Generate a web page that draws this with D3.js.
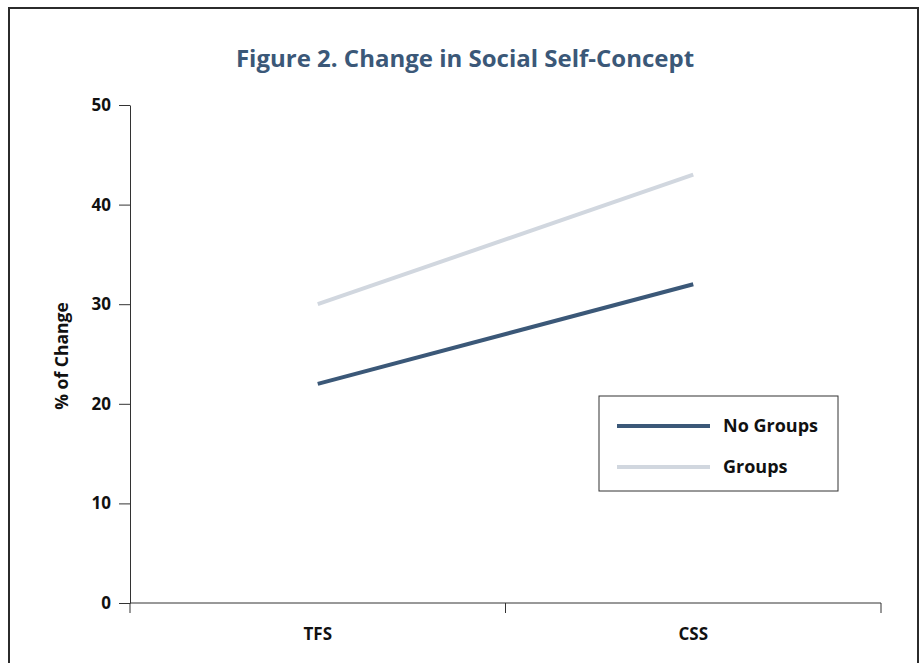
<!DOCTYPE html>
<html>
<head>
<meta charset="utf-8">
<script src="https://cdn.jsdelivr.net/npm/d3@7"></script>
<style>
  body { margin: 0; background: #fff; }
  text { font-family: "Open Sans", "Noto Sans", sans-serif; }
</style>
</head>
<body>
<div class="canvas"></div>
<script>
// data
const categories = ['TFS', 'CSS']
const noGroups = [22, 32]
const groups = [30, 43]
const yTicks = [0, 10, 20, 30, 40, 50]

const series = [
    { name: 'No Groups', values: noGroups, color: '#3b5878' },
    { name: 'Groups', values: groups, color: '#d1d7df' }
]

// dimensions
const dims = { width: 920, height: 663 }
const plot = { left: 130, right: 881, top: 105, bottom: 603 }

const svg = d3.select('.canvas')
    .append('svg')
    .attr('width', dims.width)
    .attr('height', dims.height)

// outer frame
svg.append('rect')
    .attr('x', 9).attr('y', 8)
    .attr('width', 909).attr('height', 700)
    .attr('fill', 'none')
    .attr('stroke', '#2b2b2b')
    .attr('stroke-width', 2)

// title
svg.append('text')
    .attr('x', 465).attr('y', 67)
    .attr('text-anchor', 'middle')
    .attr('font-size', 24)
    .attr('font-weight', 700)
    .attr('fill', '#3b5878')
    .text('Figure 2. Change in Social Self-Concept')

// scales
const x = d3.scaleBand()
    .domain(categories)
    .range([plot.left, plot.right])

const y = d3.scaleLinear()
    .domain([0, 50])
    .range([plot.bottom, plot.top])

// y axis
const yAxis = d3.axisLeft(y)
    .tickValues(yTicks)
    .tickSize(11)
    .tickPadding(8)
    .tickSizeOuter(0)

const yG = svg.append('g')
    .attr('transform', `translate(${plot.left}, 0)`)
    .call(yAxis)
yG.select('.domain').attr('stroke', '#333')
yG.selectAll('.tick line').attr('stroke', '#333')
yG.selectAll('text')
    .attr('font-size', 17)
    .attr('font-weight', 700)
    .attr('fill', '#111')

// x axis: ticks at band edges
const xG = svg.append('g')
    .attr('transform', `translate(0, ${plot.bottom})`)
xG.append('line')
    .attr('x1', plot.left).attr('x2', plot.right)
    .attr('stroke', '#333')
const edges = [plot.left, x('CSS'), plot.right]
xG.selectAll('line.edge')
    .data(edges)
    .enter().append('line')
    .attr('class', 'edge')
    .attr('x1', d => d).attr('x2', d => d)
    .attr('y1', 0).attr('y2', 10)
    .attr('stroke', '#333')
xG.selectAll('text')
    .data(categories)
    .enter().append('text')
    .attr('x', d => x(d) + x.bandwidth() / 2)
    .attr('y', 37)
    .attr('text-anchor', 'middle')
    .attr('font-size', 17)
    .attr('font-weight', 700)
    .attr('fill', '#111')
    .text(d => d)

// y label
svg.append('text')
    .attr('transform', 'translate(68, 356) rotate(-90)')
    .attr('text-anchor', 'middle')
    .attr('font-size', 17.5)
    .attr('font-weight', 700)
    .attr('fill', '#111')
    .text('% of Change')

// lines
const line = d3.line()
    .x((d, i) => x(categories[i]) + x.bandwidth() / 2)
    .y(d => y(d))

svg.selectAll('path.series')
    .data(series.slice().reverse())
    .enter().append('path')
    .attr('class', 'series')
    .attr('d', d => line(d.values))
    .attr('fill', 'none')
    .attr('stroke', d => d.color)
    .attr('stroke-width', 4)

// legend
const legend = svg.append('g')
    .attr('transform', 'translate(599, 396)')
legend.append('rect')
    .attr('width', 239).attr('height', 95)
    .attr('fill', '#fff')
    .attr('stroke', '#333')
    .attr('stroke-width', 1)
const items = legend.selectAll('g.item')
    .data(series)
    .enter().append('g')
    .attr('class', 'item')
    .attr('transform', (d, i) => `translate(0, ${30 + i * 41})`)
items.append('line')
    .attr('x1', 18).attr('x2', 111)
    .attr('stroke', d => d.color)
    .attr('stroke-width', 4)
items.append('text')
    .attr('x', 124).attr('y', 6)
    .attr('font-size', 18)
    .attr('font-weight', 700)
    .attr('fill', '#111')
    .text(d => d.name)
</script>
</body>
</html>
